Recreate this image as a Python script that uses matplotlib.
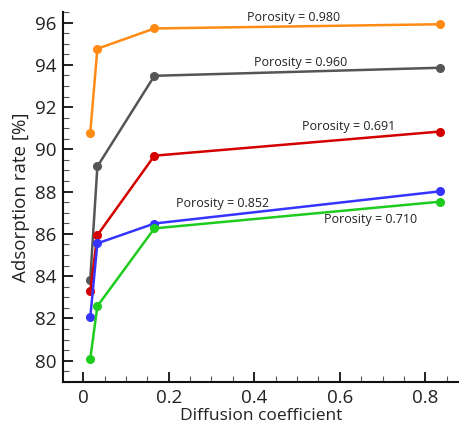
import matplotlib
matplotlib.use("Agg")
import matplotlib.pyplot as plt
from matplotlib.ticker import MultipleLocator

plt.rcParams['font.family'] = ['Open Sans', 'DejaVu Sans']

diffusion = [1/60, 1/30, 1/6, 5/6]
series = {
    "0.980": [90.78, 94.76, 95.72, 95.92],
    "0.960": [83.84, 89.19, 93.48, 93.86],
    "0.691": [83.28, 85.94, 89.70, 90.84],
    "0.852": [82.06, 85.55, 86.49, 88.01],
    "0.710": [80.08, 82.58, 86.26, 87.52],
}
colors = {
    "0.980": "#ff8a14",
    "0.960": "#555555",
    "0.691": "#d40000",
    "0.852": "#3535ff",
    "0.710": "#1ecc1e",
}
label_pos = {
    "0.980": (0.383, 96.22),
    "0.960": (0.399, 94.09),
    "0.691": (0.511, 91.07),
    "0.852": (0.217, 87.42),
    "0.710": (0.563, 86.67),
}

fig = plt.figure(figsize=(4.6, 4.28), dpi=100)
ax = fig.add_axes([0.137, 0.108, 0.863, 0.864])

for key in series:
    ax.plot(diffusion, series[key], color=colors[key], lw=1.8,
            marker='o', ms=5.5, zorder=3)
    x, y = label_pos[key]
    ax.text(x, y, f"Porosity = {key}", fontsize=9, color='#222222',
            ha='left', va='center')

ax.set_xlim(-0.047, 0.881)
ax.set_ylim(79.0, 96.5)
ax.xaxis.set_major_locator(MultipleLocator(0.2))
ax.xaxis.set_minor_locator(MultipleLocator(0.05))
ax.yaxis.set_major_locator(MultipleLocator(2))
ax.yaxis.set_minor_locator(MultipleLocator(0.5))
ax.set_xticks([0, 0.2, 0.4, 0.6, 0.8])
ax.set_xticklabels(['0', '0.2', '0.4', '0.6', '0.8'])

for s in ['top', 'right']:
    ax.spines[s].set_visible(False)
for s in ['left', 'bottom']:
    ax.spines[s].set_linewidth(1.5)
    ax.spines[s].set_color('#111111')

ax.tick_params(which='major', direction='in', length=7, width=1.3,
               labelsize=13.5, colors='#111111', labelcolor='#222222', pad=5)
ax.tick_params(which='minor', direction='in', length=4, width=0.8,
               colors='#555555')

ax.set_xlabel("Diffusion coefficient", fontsize=12.5, color='#222222', labelpad=1)
ax.set_ylabel("Adsorption rate [%]", fontsize=13.5, color='#222222', labelpad=3)

fig.savefig("out.png", dpi=100)
